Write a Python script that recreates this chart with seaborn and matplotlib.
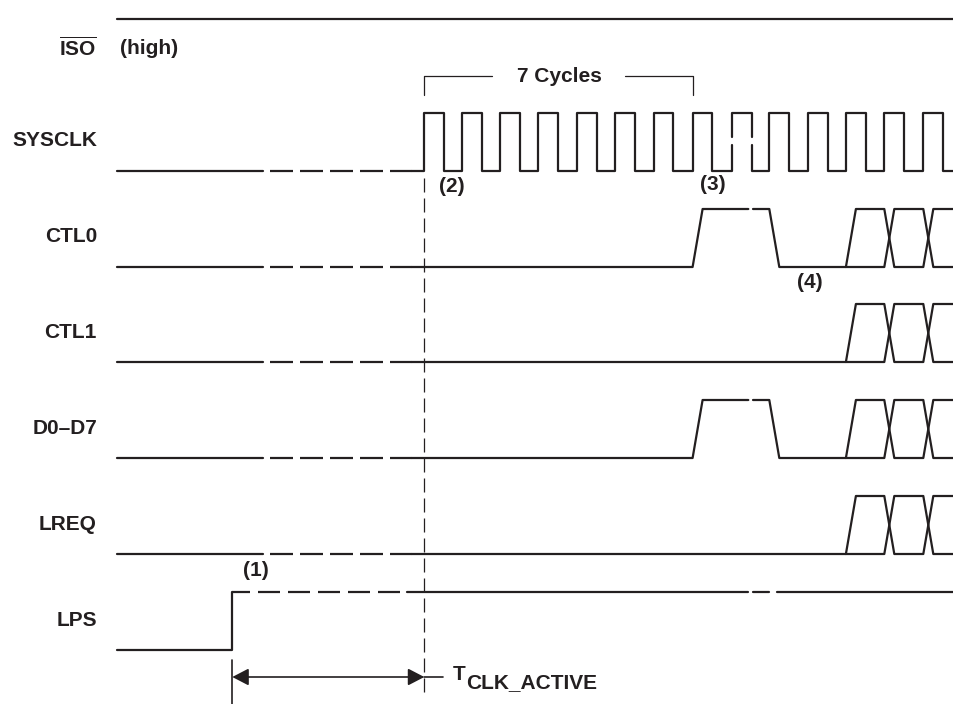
import pandas as pd
import matplotlib.pyplot as plt
from matplotlib.patches import FancyArrowPatch
import seaborn as sns

# ---------------- data ----------------
# time axis runs left to right in picture units (1 unit = 1 px)
signals = ['ISO', 'SYSCLK', 'CTL0', 'CTL1', 'D0\u2013D7', 'LREQ', 'LPS']

# SYSCLK edges
clk_rise = [424.0, 461.8, 500.0, 538.5, 576.7, 615.5, 653.7,
            692.6, 731.7, 769.3, 808.1, 845.9, 884.3, 923.3]
clk_fall = [444.2, 482.0, 520.1, 558.3, 596.8, 635.0, 673.1,
            711.7, 751.7, 788.7, 827.6, 865.7, 904.0, 942.6]
clk_break = 8                 # cycle drawn with broken edges

# CTL0 / D0-D7 pulse : start of rise, start of fall, gap in the high level
pulse_edges = [692.6, 769.3]
pulse_gap = [748.3, 753.0]

# bus becomes valid/unknown (X pattern) for CTL0, CTL1, D0-D7, LREQ
bus_start = 845.9
bus_cross = [884.3, 923.3]

# LPS
lps_rise = 232.3
lps_gaps = [[748.3, 752.7], [769.3, 776.7]]

# T_CLK_ACTIVE span
t_active = [232.3, 424.3]

notes = ['(1)', '(2)', '(3)', '(4)']

# ---------------- layout ----------------
W, H = 954, 704
X0, X1 = 117, 954
DASH_A, DASH_B = 263, 412      # dashed stretch on the left of each trace
row_y = [77, 171, 267, 362, 458, 554, 650]   # low level of each row
SWING = 58
SLEW = 10
INK = '#231f20'
LW = 1.6
PX = 0.72                      # points per pixel at 100 dpi

sns.set_theme(style='white')
plt.rcParams['font.family'] = ['Liberation Sans', 'DejaVu Sans']
plt.rcParams['lines.scale_dashes'] = False
plt.rcParams['mathtext.fontset'] = 'custom'
plt.rcParams['mathtext.bf'] = 'Liberation Sans:bold'
plt.rcParams['mathtext.rm'] = 'Liberation Sans'

fig = plt.figure(figsize=(W / 100, H / 100), dpi=100)
ax = fig.add_axes([0, 0, 1, 1])
ax.set_xlim(0, W)
ax.set_ylim(H, 0)
ax.axis('off')

solid, dashed, lps_dashed = [], [], []


def add_bus(path, lo, hi):
    # X pattern: two rails that swap at each crossing
    a = path + [(bus_start + SLEW, hi)]
    b = [(bus_start, lo)]
    ya, yb = hi, lo
    for c in bus_cross:
        a += [(c, ya), (c + SLEW, yb)]
        b += [(c, yb), (c + SLEW, ya)]
        ya, yb = yb, ya
    a.append((X1, ya))
    b.append((X1, yb))
    solid.extend([a, b])


for i, name in enumerate(signals):
    lo = row_y[i]
    hi = lo - SWING
    if name == 'ISO':
        solid.append([(X0, hi), (X1, hi)])
        continue
    if name == 'LPS':
        solid.append([(X0, lo), (lps_rise, lo), (lps_rise, hi)])
        lps_dashed.append([(lps_rise, hi), (DASH_B - 5, hi)])
        xs = [DASH_B - 5] + [g for gap in lps_gaps for g in gap] + [X1]
        for k in range(0, len(xs), 2):
            solid.append([(xs[k], hi), (xs[k + 1], hi)])
        continue

    solid.append([(X0, lo), (DASH_A, lo)])
    dashed.append([(DASH_A, lo), (DASH_B, lo)])

    if name == 'SYSCLK':
        g_lo, g_hi = lo - 26, lo - 34
        pts = [(DASH_B, lo)]
        for k, (r, f) in enumerate(zip(clk_rise, clk_fall)):
            if k == clk_break:
                pts += [(r, lo), (r, g_lo)]
                solid.append(pts)
                solid.append([(r, g_hi), (r, hi), (f, hi), (f, g_hi)])
                pts = [(f, g_lo), (f, lo)]
            else:
                pts += [(r, lo), (r, hi), (f, hi), (f, lo)]
        pts.append((X1, lo))
        solid.append(pts)
    elif name in ('CTL0', 'D0\u2013D7'):
        up, dn = pulse_edges
        solid.append([(DASH_B, lo), (up, lo), (up + SLEW, hi), (pulse_gap[0], hi)])
        add_bus([(pulse_gap[1], hi), (dn, hi), (dn + SLEW, lo), (bus_start, lo)], lo, hi)
    else:
        add_bus([(DASH_B, lo), (bus_start, lo)], lo, hi)

    ax.text(97, lo - 30, name, ha='right', va='center', fontsize=15,
            fontweight='bold', color=INK)

ax.text(97, row_y[-1] - 30, 'LPS', ha='right', va='center', fontsize=15,
        fontweight='bold', color=INK)
ax.text(97, row_y[0] - 29, r'$\overline{\mathbf{ISO}}$', ha='right', va='center',
        fontsize=15, color=INK)
ax.text(120, row_y[0] - 29, '(high)', ha='left', va='center', fontsize=15,
        fontweight='bold', color=INK)


def to_frame(paths):
    rows = [(k, x, y) for k, p in enumerate(paths) for x, y in p]
    return pd.DataFrame(rows, columns=['seg', 't', 'y'])


sns.lineplot(data=to_frame(solid), x='t', y='y', units='seg', estimator=None,
             sort=False, color=INK, lw=LW, ax=ax, legend=False)
sns.lineplot(data=to_frame(dashed), x='t', y='y', units='seg', estimator=None,
             sort=False, color=INK, lw=LW, ax=ax, legend=False,
             linestyle=(23 * PX, (23 * PX, 7 * PX)))
sns.lineplot(data=to_frame(lps_dashed), x='t', y='y', units='seg', estimator=None,
             sort=False, color=INK, lw=LW, ax=ax, legend=False,
             linestyle=(4 * PX, (22 * PX, 8 * PX)))
ax.set_xlim(0, W)
ax.set_ylim(H, 0)

# clock-active marker
ax.plot([clk_rise[0] + 0.3] * 2, [178, 693], color=INK, lw=0.9,
        linestyle=(0, (14 * PX, 6 * PX)))

# 7 cycles bracket
b0, b1 = clk_rise[0], clk_rise[7]
ax.plot([b0, b0, 492], [95, 76, 76], color=INK, lw=0.9)
ax.plot([625, b1, b1], [76, 76, 95], color=INK, lw=0.9)
ax.text((b0 + b1) / 2 + 1, 77, '7 Cycles', ha='center', va='center',
        fontsize=15, fontweight='bold', color=INK)

# numbered notes
note_pos = [(256, 571), (452, 187), (713, 185), (810, 283)]
for txt, (x, y) in zip(notes, note_pos):
    ax.text(x, y, txt, ha='center', va='center', fontsize=15,
            fontweight='bold', color=INK)

# T_CLK_ACTIVE arrow
ya = 677
ax.plot([t_active[0]] * 2, [660, 704], color=INK, lw=1.2)
ax.add_patch(FancyArrowPatch((t_active[0], ya), (t_active[1], ya),
                             arrowstyle='<|-|>,head_length=1.0,head_width=0.52',
                             mutation_scale=10, shrinkA=0, shrinkB=0,
                             color=INK, lw=1.2))
ax.plot([t_active[1], 443], [ya, ya], color=INK, lw=1.2)
ax.text(453, 675, 'T', ha='left', va='center', fontsize=15,
        fontweight='bold', color=INK)
ax.text(466, 683, 'CLK_ACTIVE', ha='left', va='center', fontsize=15,
        fontweight='bold', color=INK)

fig.savefig('out.png', dpi=100)
